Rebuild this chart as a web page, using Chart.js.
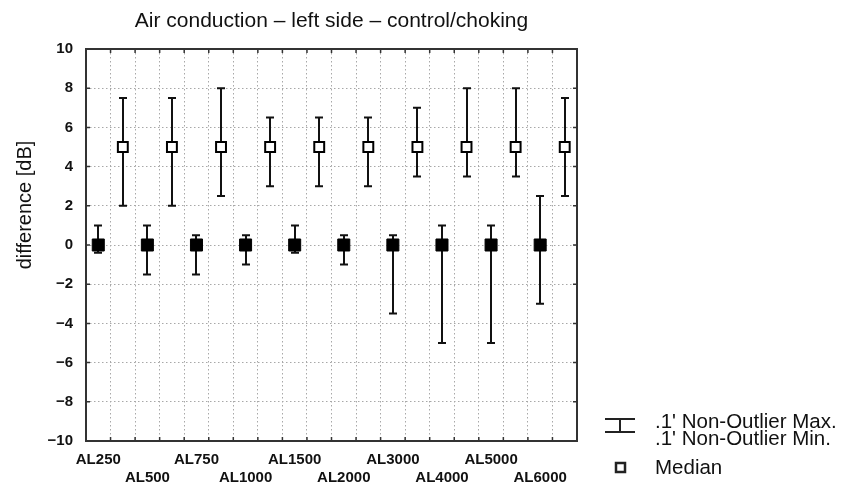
<!DOCTYPE html>
<html>
<head>
<meta charset="utf-8">
<script src="https://cdn.jsdelivr.net/npm/chart.js@4/dist/chart.umd.min.js"></script>
<style>
  html, body { margin: 0; padding: 0; background: #fff; }
</style>
</head>
<body>
<canvas id="chart" width="846" height="487"></canvas>
<script>
const categories = ['AL250', 'AL500', 'AL750', 'AL1000', 'AL1500', 'AL2000', 'AL3000', 'AL4000', 'AL5000', 'AL6000'];

// control group (filled squares)
const controlMedian = [0, 0, 0, 0, 0, 0, 0, 0, 0, 0];
const controlMin = [-0.4, -1.5, -1.5, -1, -0.4, -1, -3.5, -5, -5, -3];
const controlMax = [1, 1, 0.5, 0.5, 1, 0.5, 0.5, 1, 1, 2.5];

// choking group (open squares)
const chokingMedian = [5, 5, 5, 5, 5, 5, 5, 5, 5, 5];
const chokingMin = [2, 2, 2.5, 3, 3, 3, 3.5, 3.5, 3.5, 2.5];
const chokingMax = [7.5, 7.5, 8, 6.5, 6.5, 6.5, 7, 8, 8, 7.5];

const yTickValues = [-10, -8, -6, -4, -2, 0, 2, 4, 6, 8, 10];

const titleText = 'Air conduction \u2013 left side \u2013 control/choking';
const yTitle = 'difference [dB]';
const legendLines = [".1' Non-Outlier Max.", ".1' Non-Outlier Min.", 'Median'];

const FONT = '"Liberation Sans", Arial, Helvetica, sans-serif';

// two slots per frequency: control left, choking right
const slotCount = categories.length * 2;
const xTickValues = [];
for (let i = 0; i <= slotCount; i++) xTickValues.push(i);

// whiskers
const whiskerPlugin = {
  id: 'whiskers',
  beforeDatasetsDraw(chart) {
    const { ctx, scales: { x, y } } = chart;
    ctx.save();
    ctx.strokeStyle = '#111';
    ctx.lineWidth = 2;
    const draw = (xv, lo, hi) => {
      const px = Math.round(x.getPixelForValue(xv));
      const p1 = y.getPixelForValue(lo);
      const p2 = y.getPixelForValue(hi);
      ctx.beginPath();
      ctx.moveTo(px, p1); ctx.lineTo(px, p2);
      ctx.moveTo(px - 4, p1); ctx.lineTo(px + 4, p1);
      ctx.moveTo(px - 4, p2); ctx.lineTo(px + 4, p2);
      ctx.stroke();
    };
    categories.forEach((c, i) => {
      draw(2 * i + 0.5, controlMin[i], controlMax[i]);
      draw(2 * i + 1.5, chokingMin[i], chokingMax[i]);
    });
    ctx.restore();
  }
};

// frame, inner ticks, title, y title, legend
const decorPlugin = {
  id: 'decor',
  beforeDatasetsDraw(chart) {
    const { ctx, chartArea: a, scales: { x, y } } = chart;
    ctx.save();
    ctx.strokeStyle = '#333';
    ctx.lineWidth = 1.5;
    ctx.beginPath();
    xTickValues.forEach(v => {
      const px = x.getPixelForValue(v);
      ctx.moveTo(px, a.bottom); ctx.lineTo(px, a.bottom - 4);
      ctx.moveTo(px, a.top); ctx.lineTo(px, a.top + 4);
    });
    yTickValues.forEach(v => {
      const py = y.getPixelForValue(v);
      ctx.moveTo(a.left, py); ctx.lineTo(a.left + 4, py);
      ctx.moveTo(a.right, py); ctx.lineTo(a.right - 4, py);
    });
    ctx.stroke();
    ctx.lineWidth = 2;
    ctx.strokeRect(a.left, a.top, a.right - a.left, a.bottom - a.top);
    ctx.restore();
  },
  afterDraw(chart) {
    const { ctx, chartArea: a } = chart;
    ctx.save();
    ctx.fillStyle = '#111';
    // title
    ctx.font = '21px ' + FONT;
    ctx.textAlign = 'center';
    ctx.textBaseline = 'alphabetic';
    ctx.fillText(titleText, (a.left + a.right) / 2, 27);
    // y axis title
    ctx.save();
    ctx.translate(25, 205);
    ctx.rotate(-Math.PI / 2);
    ctx.font = '20px ' + FONT;
    ctx.textBaseline = 'middle';
    ctx.fillText(yTitle, 0, 0);
    ctx.restore();
    // legend
    ctx.strokeStyle = '#222';
    ctx.lineWidth = 2;
    ctx.beginPath();
    ctx.moveTo(605, 419); ctx.lineTo(635, 419);
    ctx.moveTo(605, 432); ctx.lineTo(635, 432);
    ctx.moveTo(620, 419); ctx.lineTo(620, 432);
    ctx.stroke();
    ctx.lineWidth = 2.5;
    ctx.strokeRect(616, 463, 9, 9);
    ctx.font = '20.5px ' + FONT;
    ctx.textAlign = 'left';
    ctx.fillText(legendLines[0], 655, 428);
    ctx.fillText(legendLines[1], 655, 445);
    ctx.fillText(legendLines[2], 655, 474);
    ctx.restore();
  }
};

new Chart(document.getElementById('chart'), {
  type: 'scatter',
  data: {
    datasets: [
      {
        label: 'control',
        data: categories.map((c, i) => ({ x: 2 * i + 0.5, y: controlMedian[i] })),
        pointStyle: 'rect',
        pointRadius: 8.5,
        backgroundColor: '#000',
        borderColor: '#000',
        borderWidth: 1
      },
      {
        label: 'choking',
        data: categories.map((c, i) => ({ x: 2 * i + 1.5, y: chokingMedian[i] })),
        pointStyle: 'rect',
        pointRadius: 7,
        backgroundColor: '#fff',
        borderColor: '#000',
        borderWidth: 2
      }
    ]
  },
  options: {
    responsive: false,
    animation: false,
    layout: { padding: { top: 49, right: 269, bottom: 0, left: 0 } },
    plugins: {
      legend: { display: false },
      title: { display: false },
      tooltip: { enabled: false }
    },
    scales: {
      x: {
        type: 'linear',
        min: 0,
        max: slotCount,
        afterBuildTicks: s => { s.ticks = xTickValues.map(v => ({ value: v })); },
        afterFit: s => { s.height = 46; },
        grid: { color: '#a8a8a8', lineWidth: 1, drawTicks: false },
        border: { display: false, dash: [1.5, 2.5] },
        ticks: {
          autoSkip: false,
          maxRotation: 0,
          minRotation: 0,
          padding: 9,
          labelOffset: 12.3,
          color: '#111',
          font: { family: FONT, size: 15, weight: 'bold', lineHeight: 1.25 },
          callback: v => {
            if (v % 2 !== 0 || v >= slotCount) return '';
            const i = v / 2;
            return i % 2 ? ['', categories[i]] : categories[i];
          }
        }
      },
      y: {
        min: -10,
        max: 10,
        afterBuildTicks: s => { s.ticks = yTickValues.map(v => ({ value: v })); },
        afterFit: s => { s.width = 86; },
        grid: { color: '#a8a8a8', lineWidth: 1, drawTicks: false },
        border: { display: false, dash: [1.5, 2.5] },
        ticks: {
          padding: 13,
          color: '#111',
          font: { family: FONT, size: 15, weight: 'bold' },
          callback: v => String(v).replace('-', '\u2212')
        }
      }
    }
  },
  plugins: [whiskerPlugin, decorPlugin]
});
</script>
</body>
</html>
